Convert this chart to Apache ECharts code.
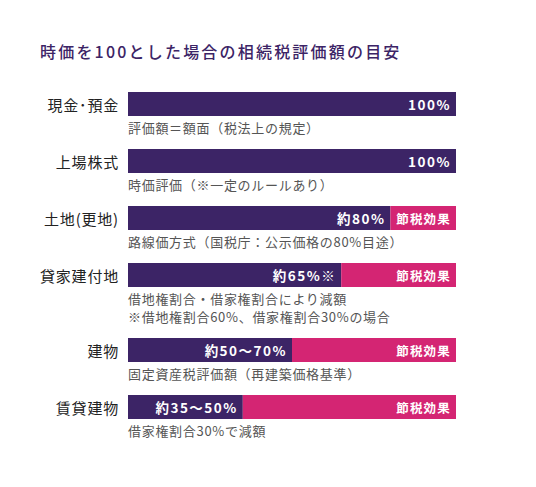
<!DOCTYPE html>
<html>
<head>
<meta charset="utf-8">
<script src="https://cdn.jsdelivr.net/npm/echarts@6/dist/echarts.min.js"></script>
<style>
  html, body { margin: 0; padding: 0; background: #fff; }
  #chart { width: 536px; height: 487px; }
</style>
</head>
<body>
<div id="chart"></div>
<script>
// data
var categories = ['現金･預金', '上場株式', '土地(更地)', '貸家建付地', '建物', '賃貸建物'];
var valueRate = [100, 100, 80, 65, 50, 35];
var valueLabels = ['100%', '100%', '約80%', '約65%※', '約50〜70%', '約35〜50%'];
var savingLabel = '節税効果';
var notes = [
  ['評価額＝額面（税法上の規定）'],
  ['時価評価（※一定のルールあり）'],
  ['路線価方式（国税庁：公示価格の80%目途）'],
  ['借地権割合・借家権割合により減額', '※借地権割合60%、借家権割合30%の場合'],
  ['固定資産税評価額（再建築価格基準）'],
  ['借家権割合30%で減額']
];
var title = '時価を100とした場合の相続税評価額の目安';

var purple = '#3c2466';
var pink = '#d42573';
var font = '"Noto Sans CJK JP", "Noto Sans", sans-serif';

// layout: rows stack down, a note line takes 18px
var barH = 24, rowGap = 33, lineH = 18, firstTop = 92;
// letter spacing per font size (echarts has no option for it)
var spacing = { '16px': '2.2px', '15px': '0.8px', '13.5px': '1.5px', '13px': '0.7px', '12.5px': '1.2px' };

var grids = [], xAxes = [], yAxes = [], series = [], graphics = [];
var rowTop = firstTop;
categories.forEach(function (name, i) {
  grids.push({ left: 128, right: 80, top: rowTop, height: barH });
  xAxes.push({ gridIndex: i, type: 'value', min: 0, max: 100, show: false });
  yAxes.push({
    gridIndex: i, type: 'category', data: [name],
    axisLine: { show: false }, axisTick: { show: false },
    axisLabel: { color: '#222', fontSize: 15, fontFamily: font, margin: 9 }
  });
  series.push({
    type: 'bar', xAxisIndex: i, yAxisIndex: i, stack: 's' + i,
    data: [valueRate[i]], barWidth: barH, silent: true,
    itemStyle: { color: purple },
    label: {
      show: true, position: 'insideRight', formatter: valueLabels[i],
      color: '#fff', fontSize: 13.5, fontWeight: 'bold', fontFamily: font
    }
  });
  series.push({
    type: 'bar', xAxisIndex: i, yAxisIndex: i, stack: 's' + i,
    data: [100 - valueRate[i]], barWidth: barH, silent: true,
    itemStyle: { color: pink },
    label: {
      show: valueRate[i] < 100, position: 'insideRight', formatter: savingLabel,
      color: '#fff', fontSize: 12.5, fontWeight: 'bold', fontFamily: font
    }
  });
  notes[i].forEach(function (line, j) {
    graphics.push({
      type: 'text', left: 128, top: rowTop + barH + 5 + j * lineH,
      style: { text: line, fill: '#555', font: '13px ' + font }
    });
  });
  rowTop += barH + rowGap + (notes[i].length - 1) * lineH;
});

graphics.push({
  type: 'text', left: 40, top: 43,
  style: { text: title, fill: purple, font: '500 16px ' + font }
});

var chart = echarts.init(document.getElementById('chart'), null, { renderer: 'svg' });

function spaceLetters() {
  var texts = document.querySelectorAll('#chart svg text');
  for (var k = 0; k < texts.length; k++) {
    var fs = getComputedStyle(texts[k]).fontSize;
    if (spacing[fs]) texts[k].style.letterSpacing = spacing[fs];
  }
}
chart.on('finished', spaceLetters);

chart.setOption({
  animation: false,
  backgroundColor: '#fff',
  grid: grids,
  xAxis: xAxes,
  yAxis: yAxes,
  series: series,
  graphic: graphics
});
setTimeout(spaceLetters, 50);
</script>
</body>
</html>
